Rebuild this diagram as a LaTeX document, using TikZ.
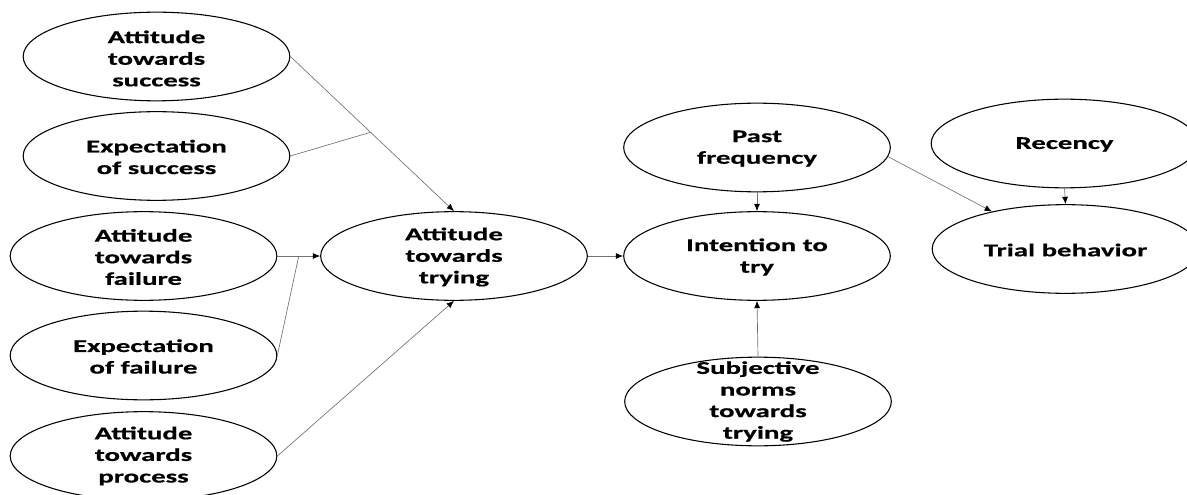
\documentclass[tikz,border=0pt]{standalone}
\usepackage{fontspec}
\setmainfont{Carlito}[FakeStretch=1.6, BoldFeatures={FakeBold=0.6}]
\usetikzlibrary{shapes.geometric,arrows.meta,calc}
\tikzset{
  oval/.style={ellipse, draw=black, line width=0.8pt, minimum width=200pt, minimum height=66.5pt, inner sep=0pt},
  lbl/.style={align=center, inner sep=0pt, font=\bfseries\fontsize{13.5}{16.2}\selectfont},
  conn/.style={draw=black!55, line width=0.5pt},
  arr/.style={conn, -{Latex[length=5.5pt,width=4.5pt,black]}}
}
\begin{document}
\begin{tikzpicture}[x=0.75pt,y=-0.75pt]
\useasboundingbox (0,0) rectangle (1187,495);
% ellipses
\node[oval] (e1) at (156.5,56.5) {};
\node[oval] (e2) at (156.5,156) {};
\node[oval] (e3) at (143.5,256) {};
\node[oval] (e4) at (143.5,355.5) {};
\node[oval] (e5) at (143.5,456) {};
\node[oval] (e6) at (454,256) {};
\node[oval] (e7) at (757,147.5) {};
\node[oval] (e8) at (757,256) {};
\node[oval] (e9) at (758,401.5) {};
\node[oval] (e10) at (1064.5,143.5) {};
\node[oval] (e11) at (1065.5,249) {};
% labels
\node[lbl] (t1) at ($(e1)+(0,2)$) {Attitude\\towards\\success};
\node[lbl] (t2) at ($(e2)+(0,1)$) {Expectation\\of success};
\node[lbl] (t3) at ($(e3)+(0,1)$) {Attitude\\towards\\failure};
\node[lbl] (t4) at ($(e4)+(0,1)$) {Expectation\\of failure};
\node[lbl] (t5) at ($(e5)+(0,0)$) {Attitude\\towards\\process};
\node[lbl] (t6) at ($(e6)+(0,1)$) {Attitude\\towards\\trying};
\node[lbl] (t7) at ($(e7)+(0,1)$) {Past\\frequency};
\node[lbl] (t8) at ($(e8)+(0,1)$) {Intention to\\try};
\node[lbl] (t9) at ($(e9)+(0,0)$) {Subjective\\norms\\towards\\trying};
\node[lbl] (t10) at ($(e10)+(0,1)$) {Recency};
\node[lbl] (t11) at ($(e11)+(0,1)$) {Trial behavior};
% junctions
\coordinate (j1) at ($(e1.east)!0.49!(e6.north)$);
\coordinate (j2) at ($(e3.east)!0.5!(e6.west)$);
% connectors
\draw[arr] (e1.east) -- (e6.north);
\draw[conn] (e2.east) -- (j1);
\draw[arr] (e3.east) -- (e6.west);
\draw[conn] (e4.east) -- (j2);
\draw[arr] (e5.east) -- (e6.south);
\draw[arr] (e6.east) -- (e8.west);
\draw[arr] (e7.south) -- (e8.north);
\draw[arr] (e9.north) -- (e8.south);
\draw[arr] (e7.-4) -- (e11.153);
\draw[arr] (e10.south) -- (e11.north);
\end{tikzpicture}
\end{document}
